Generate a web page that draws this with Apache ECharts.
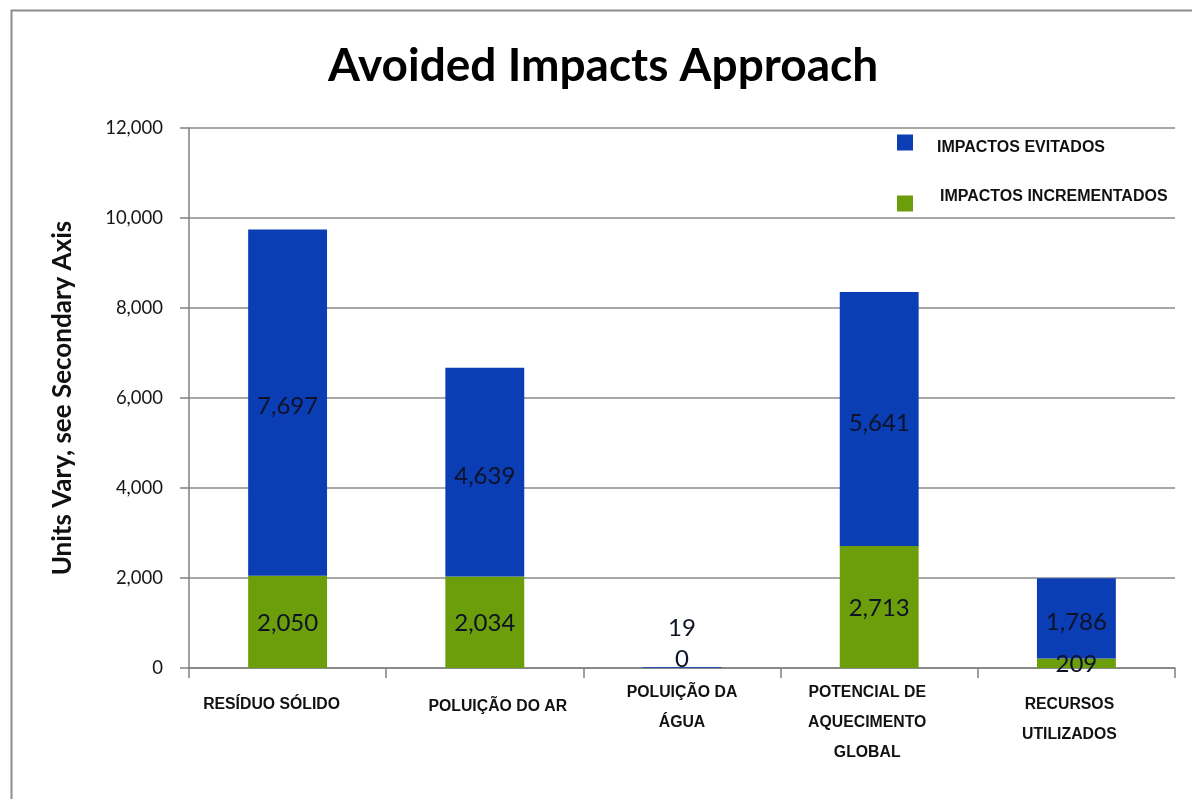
<!DOCTYPE html>
<html>
<head>
<meta charset="utf-8">
<title>Avoided Impacts Approach</title>
<script src="https://cdn.jsdelivr.net/npm/echarts@6/dist/echarts.min.js"></script>
<style>
  html, body { margin: 0; padding: 0; background: #ffffff; }
  #chart { width: 1192px; height: 799px; }
</style>
</head>
<body>
<div id="chart"></div>
<script>
// Impact categories (x axis)
const categories = [
  'RESÍDUO SÓLIDO',
  'POLUIÇÃO DO AR',
  'POLUIÇÃO DA\nÁGUA',
  'POTENCIAL DE\nAQUECIMENTO\nGLOBAL',
  'RECURSOS\nUTILIZADOS'
];

// Stacked series values
const incrementedImpacts = [2050, 2034, 0, 2713, 209];   // green, bottom
const avoidedImpacts = [7697, 4639, 19, 5641, 1786];      // blue, top

// Value axis ticks
const yTicks = [0, 2000, 4000, 6000, 8000, 10000, 12000];

const seriesNames = {
  avoided: 'IMPACTOS EVITADOS',
  incremented: 'IMPACTOS INCREMENTADOS'
};

const BLUE = '#0b3db4';
const GREEN = '#6b9e0a';
const NUM_FONT = 'Lato, "Open Sans", sans-serif';
const CAT_FONT = '"Liberation Sans", Arial, sans-serif';

const fmt = v => Number(v).toLocaleString('en-US');

// category label nudges: [top padding, horizontal shift]
const catLabelLayout = [[12, -16], [14, 13], [0, 0], [0, -12], [12, -7]];

function categoryItem(name, i) {
  const [top, shift] = catLabelLayout[i];
  const left = shift > 0 ? shift * 2 : 0;
  const right = shift < 0 ? -shift * 2 : 0;
  return { value: name, textStyle: { padding: [top, right, 0, left] } };
}

// tiny segments carry their label above the bar
function segmentItems(values, topDistance) {
  return values.map(v => {
    if (v < 100) {
      return { value: v, label: { position: 'top', distance: topDistance, offset: [0, 0] } };
    }
    return v;
  });
}

const chart = echarts.init(document.getElementById('chart'), null, { renderer: 'canvas' });

function labelStyle(dy) {
  return {
    show: true,
    position: 'inside',
    offset: [0, dy],
    color: '#0d1226',
    fontFamily: NUM_FONT,
    fontSize: 24,
    formatter: p => fmt(p.value)
  };
}

chart.setOption({
  backgroundColor: '#ffffff',
  animation: false,
  title: {
    text: 'Avoided Impacts Approach',
    left: 328,
    top: 43,
    padding: 0,
    textStyle: {
      fontFamily: NUM_FONT,
      fontWeight: 'bold',
      fontSize: 46,
      color: '#000000'
    }
  },
  legend: {
    orient: 'vertical',
    left: 897,
    top: 129,
    padding: 0,
    itemWidth: 16,
    itemHeight: 16,
    itemGap: 33,
    icon: 'rect',
    selectedMode: false,
    // first entry's text sits a little below its swatch, the second a little above
    formatter: name => name === seriesNames.incremented ? name + '\n ' : ' \n' + name,
    textStyle: {
      fontFamily: CAT_FONT,
      fontWeight: 'bold',
      fontSize: 16,
      color: '#111111'
    },
    data: [
      { name: seriesNames.avoided, textStyle: { padding: [0, 0, 0, 19], lineHeight: 11 } },
      { name: seriesNames.incremented, textStyle: { padding: [0, 0, 0, 22], lineHeight: 13 } }
    ]
  },
  grid: {
    left: 189,
    right: 17,
    top: 128,
    bottom: 131,
    containLabel: false
  },
  xAxis: {
    type: 'category',
    data: categories.map(categoryItem),
    axisLine: { show: true, lineStyle: { color: '#808080', width: 1.5 } },
    axisTick: { show: true, length: 10, lineStyle: { color: '#808080', width: 1.5 } },
    axisLabel: {
      interval: 0,
      margin: 10,
      verticalAlign: 'top',
      lineHeight: 30,
      fontFamily: CAT_FONT,
      fontWeight: 'bold',
      fontSize: 15.8,
      color: '#111111'
    }
  },
  yAxis: {
    type: 'value',
    min: yTicks[0],
    max: yTicks[yTicks.length - 1],
    interval: yTicks[1] - yTicks[0],
    name: 'Units Vary, see Secondary Axis',
    nameLocation: 'middle',
    nameGap: 113,
    nameTextStyle: {
      fontFamily: NUM_FONT,
      fontWeight: 'bold',
      fontSize: 26,
      color: '#111111'
    },
    axisLine: { show: true, lineStyle: { color: '#808080', width: 1.5 } },
    axisTick: { show: true, length: 9, lineStyle: { color: '#808080', width: 1.5 } },
    splitLine: { show: true, lineStyle: { color: '#8a8a8a', width: 1.5 } },
    axisLabel: {
      margin: 26,
      fontFamily: NUM_FONT,
      fontSize: 18.5,
      color: '#161616',
      formatter: v => fmt(v)
    }
  },
  series: [
    {
      name: seriesNames.incremented,
      type: 'bar',
      stack: 'impacts',
      barWidth: '40%',
      itemStyle: { color: GREEN },
      label: labelStyle(1),
      data: segmentItems(incrementedImpacts, -3)
    },
    {
      name: seriesNames.avoided,
      type: 'bar',
      stack: 'impacts',
      barWidth: '40%',
      itemStyle: { color: BLUE },
      label: labelStyle(4),
      data: segmentItems(avoidedImpacts, 27)
    }
  ],
  graphic: [
    {
      type: 'rect',
      left: 9,
      top: 8,
      shape: { width: 1300, height: 900 },
      style: { fill: 'none', stroke: '#8c8c8c', lineWidth: 2 },
      silent: true
    }
  ]
});
</script>
</body>
</html>
